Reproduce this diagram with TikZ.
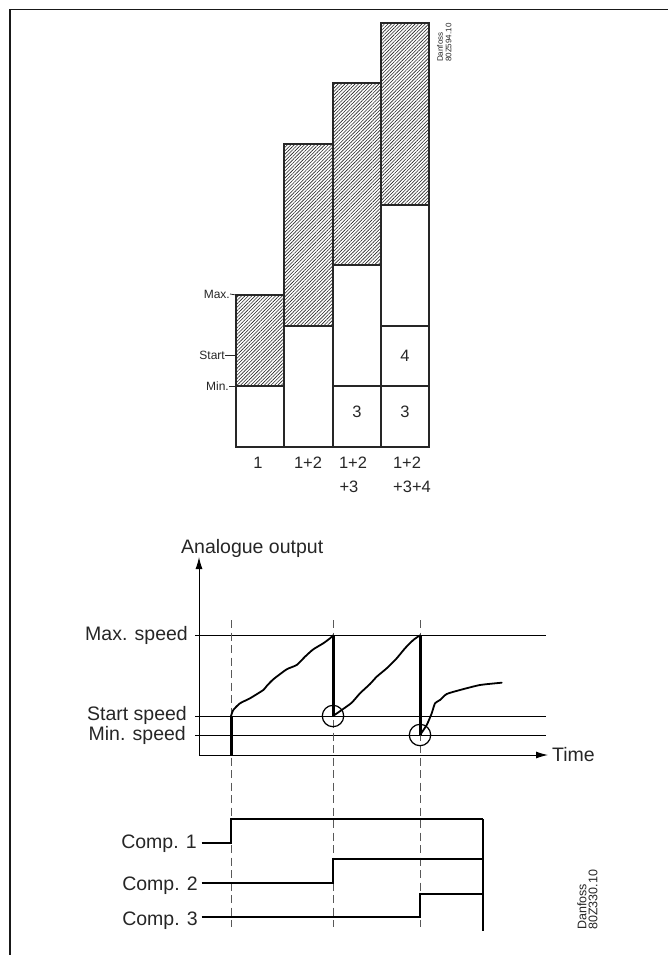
\documentclass[tikz,border=0pt]{standalone}
\usepackage{fontspec}
\setmainfont{Liberation Sans}
\usetikzlibrary{patterns.meta,arrows.meta}
\begin{document}
\begin{tikzpicture}[x=1pt,y=-1pt,
  frame/.style={line width=1.8pt,draw=black!90},
  bar/.style={draw=black!85,line width=1.1pt},
  hatch/.style={bar,pattern={Lines[angle=45,distance=2.4pt,line width=0.6pt]},pattern color=black!85},
  tickline/.style={line width=0.8pt,draw=black!85},
  small/.style={font=\fontsize{12}{14}\selectfont,text=black!85,inner sep=0pt},
  blbl/.style={font=\fontsize{16.5}{19}\selectfont,text=black!85,inner sep=0pt},
  big/.style={font=\fontsize{19.5}{22}\selectfont,text=black!85,inner sep=0pt},
  level/.style={line width=0.8pt,draw=black},
  axis/.style={line width=1pt,draw=black,-{Latex[length=12pt,width=7pt]}},
  guide/.style={line width=1pt,draw=black!65,dash pattern=on 8pt off 4.5pt},
  heavy/.style={line width=3pt,draw=black},
  curveline/.style={line width=1.8pt,draw=black,line join=round,line cap=round},
  ring/.style={line width=1.2pt,draw=black},
  compline/.style={line width=2pt,draw=black,line join=miter},
  code/.style={rotate=90,anchor=north west,align=left,inner sep=0pt,text=black!85}]
\useasboundingbox (0,0) rectangle (668,955);
% frame
\draw[frame] (668,9.5) -- (10,9.5) -- (10,955);

% ---------- bar chart ----------
% bar 1
\draw[bar] (236,386) rectangle (284,447);
\draw[hatch] (236,295) rectangle (284,386);
% bar 2
\draw[bar] (284,326) rectangle (333,447);
\draw[hatch] (284,144) rectangle (333,326);
% bar 3
\draw[bar] (333,386) rectangle (381,447);
\draw[bar] (333,265) rectangle (381,386);
\draw[hatch] (333,83) rectangle (381,265);
% bar 4
\draw[bar] (381,386) rectangle (429,447);
\draw[bar] (381,326) rectangle (429,386);
\draw[bar] (381,205) rectangle (429,326);
\draw[hatch] (381,23) rectangle (429,205);

\coordinate (bmax) at (236,295);
\coordinate (bstart) at (236,355);
\coordinate (bmin) at (236,386);
\node[small,anchor=east] (lmax) at (230,294) {Max.};
\node[small,anchor=east] (lstart) at (225,355) {Start};
\node[small,anchor=east] (lmin) at (229,386) {Min.};
\draw[tickline] (lmax.east) -- (bmax);
\draw[tickline] (lstart.east) -- (bstart);
\draw[tickline] (lmin.east) -- (bmin);

\node[blbl] (n3a) at (357,412) {3};
\node[blbl] (n3b) at (405,412) {3};
\node[blbl] (n4) at (405,356) {4};

\node[blbl] (c1) at (258,463) {1};
\node[blbl] (c2) at (308,463) {1+2};
\node[blbl] (c3) at (353,463) {1+2};
\node[blbl] (c3b) at (349,487) {+3};
\node[blbl] (c4) at (407,463) {1+2};
\node[blbl] (c4b) at (412,487) {+3+4};

\node[code,font=\fontsize{8}{8.5}\selectfont] (dan1) at (437,62) {Danfoss\\80Z594.10};

% ---------- analogue output ----------
\coordinate (origin) at (199,755);
\coordinate (ytop) at (199,557);
\coordinate (xend) at (548,755);
\draw[axis] (origin) -- (ytop);
\draw[axis] (origin) -- (xend);
\node[big,anchor=base west] (ylab) at (181,553) {Analogue output};
\node[big,anchor=west] (xlab) at (552,755) {Time};

\coordinate (lmaxa) at (195,635);
\coordinate (lmaxb) at (546,635);
\coordinate (lsta) at (195,716);
\coordinate (lstb) at (546,716);
\coordinate (lmina) at (195,735);
\coordinate (lminb) at (546,735);
\draw[level] (lmaxa) -- (lmaxb);
\draw[level] (lsta) -- (lstb);
\draw[level] (lmina) -- (lminb);
\node[big,anchor=base east] (smax) at (188,640) {Max. speed};
\node[big,anchor=base east] (sstart) at (187,720) {Start speed};
\node[big,anchor=base east] (smin) at (186,740) {Min. speed};

% guides
\foreach \n/\x in {a/231,b/333,c/420}{
  \coordinate (g\n top) at (\x,620);
  \coordinate (g\n bot) at (\x,927);
  \draw[guide] (g\n top) -- (g\n bot);
}

% output curve
\draw[heavy] (231,755) -- (231,716);
\draw[curveline] plot[smooth,tension=0.35] coordinates {(231,716) (233.3,710) (240,703.3) (250,698.3) (263.3,690) (266.7,686) (273.3,679.3) (286.7,669.3) (296.7,665) (305,656.7) (313.3,649.3) (323.3,643.3) (330,638.3) (333,635.3)};
\draw[heavy] (333,635) -- (333,716);
\draw[curveline] plot[smooth,tension=0.35] coordinates {(333,716) (341.7,710) (351.7,702.7) (360,693.3) (370,684) (376.7,676.7) (386.7,668.3) (396.7,658.3) (405,648.3) (413.3,640) (420,635.3)};
\draw[heavy] (420,635) -- (420,735);
\draw[curveline] plot[smooth,tension=0.35] coordinates {(420,735) (426.7,725) (431.7,713.3) (435,703.3) (440,700) (446.7,694) (460,690) (480,685) (501.7,682.7)};
\draw[ring] (333,716) circle[radius=10.7];
\draw[ring] (420,735) circle[radius=10.7];

% ---------- compressors ----------
\node[big,anchor=base east] (k1) at (197,848) {Comp. 1};
\node[big,anchor=base east] (k2) at (198,890) {Comp. 2};
\node[big,anchor=base east] (k3) at (198,925) {Comp. 3};
\coordinate (k1a) at (201.7,842.5);
\coordinate (k2a) at (201.7,882.7);
\coordinate (k3a) at (201.7,917.3);
\draw[compline] (k1a) -- (231,842.5) -- (231,819.3) -- (483,819.3);
\draw[compline] (k2a) -- (333,882.7) -- (333,859.3) -- (483,859.3);
\draw[compline] (k3a) -- (420,917.3) -- (420,894.3) -- (483,894.3);
\coordinate (endtop) at (483,819.3);
\coordinate (endbot) at (483,930.7);
\draw[ring] (endtop) -- (endbot);

\node[code,font=\fontsize{12.5}{11}\selectfont] (dan2) at (577,930) {Danfoss\\80Z330.10};
\end{tikzpicture}
\end{document}
